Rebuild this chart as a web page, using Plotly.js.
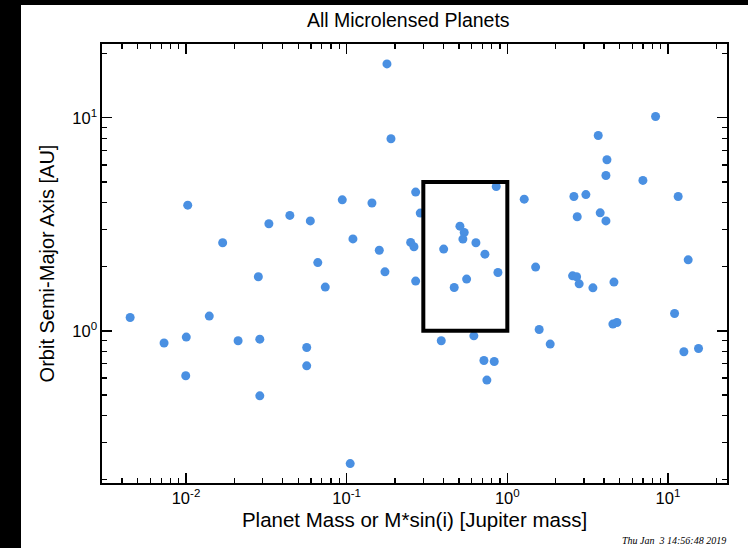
<!DOCTYPE html>
<html>
<head>
<meta charset="utf-8">
<script src="https://cdn.plot.ly/plotly-3.0.1.min.js"></script>
<style>
  html, body { margin: 0; padding: 0; background: #000; width: 748px; height: 548px; overflow: hidden; }
  #chart { position: absolute; left: 21px; top: 5px; width: 727px; height: 543px; background: #fff; }
</style>
</head>
<body>
<div id="chart"></div>
<script>
// Planet mass (Jupiter masses) and orbit semi-major axis (AU)
const planetMass = [
  0.00449, 0.0073, 0.01004, 0.00996, 0.01025, 0.01396, 0.01691, 0.0211, 0.0282, 0.0288,
  0.0288, 0.0328, 0.0443, 0.0564, 0.0564, 0.0594, 0.0661, 0.0736, 0.0939, 0.1052,
  0.1094, 0.1437, 0.1596, 0.1731, 0.1782, 0.1887, 0.2502, 0.2624, 0.2688, 0.287,
  0.2688, 0.388, 0.4016, 0.467, 0.507, 0.539, 0.529, 0.558, 0.619, 0.6376,
  0.7254, 0.715, 0.829, 0.746, 0.853, 0.874, 1.274, 1.50, 1.579, 1.849,
  2.597, 3.083, 2.723, 2.548, 2.699, 2.80, 3.41, 3.68, 4.17, 4.11,
  3.785, 4.11, 4.61, 4.54, 4.81, 6.98, 8.37, 10.99, 11.57, 13.36,
  12.56, 15.49
];
const semiMajorAxis = [
  1.155, 0.876, 0.934, 0.615, 3.89, 1.172, 2.59, 0.898, 1.793, 0.914,
  0.495, 3.18, 3.48, 0.835, 0.685, 3.28, 2.09, 1.604, 4.12, 0.238,
  2.70, 3.98, 2.39, 1.892, 17.9, 7.97, 2.60, 2.48, 4.48, 3.57,
  1.711, 0.898, 2.418, 1.597, 3.10, 2.894, 2.695, 1.749, 0.947, 2.59,
  2.29, 0.7255, 0.718, 0.587, 4.76, 1.878, 4.15, 1.991, 1.014, 0.866,
  4.27, 4.36, 3.43, 1.812, 1.793, 1.662, 1.591, 8.26, 6.35, 5.36,
  3.58, 3.28, 1.693, 1.075, 1.094, 5.08, 10.14, 1.206, 4.27, 2.154,
  0.797, 0.826
];

// Highlight box (mass range and semi-major-axis range)
const boxMass = [0.3, 1.0];
const boxAxis = [1.0, 5.0];

// Tick labels
const xTickVals = [0.01, 0.1, 1, 10];
const xTickText = ['10<sup>-2</sup>', '10<sup>-1</sup>', '10<sup>0</sup>', '10<sup>1</sup>'];
const yTickVals = [1, 10];
const yTickText = ['10<sup>0</sup>', '10<sup>1</sup>'];

// Axis ranges (data units)
const xRange = [0.003, 23.3];
const yRange = [0.193, 22.2];

function minorVals(lo, hi) {
  const out = [];
  for (let e = Math.floor(Math.log10(lo)); e <= Math.ceil(Math.log10(hi)); e++) {
    for (let m = 2; m <= 9; m++) {
      const v = m * Math.pow(10, e);
      if (v > lo && v < hi) out.push(v);
    }
  }
  return out;
}

const font = 'Liberation Sans, Arial, Helvetica, sans-serif';

const trace = {
  type: 'scatter',
  mode: 'markers',
  x: planetMass,
  y: semiMajorAxis,
  marker: { color: 'rgb(74,144,226)', size: 9, line: { width: 0 } },
  hoverinfo: 'x+y',
  showlegend: false
};

const axisCommon = {
  type: 'log',
  showgrid: false,
  zeroline: false,
  showline: true,
  linecolor: '#000',
  linewidth: 1.6,
  mirror: 'ticks',
  ticks: 'inside',
  ticklen: 10,
  tickwidth: 1.4,
  tickcolor: '#000',
  tickmode: 'array',
  tickfont: { family: font, size: 16.5, color: '#000' }
};

const layout = {
  width: 727,
  height: 543,
  margin: { l: 81, r: 21, t: 39, b: 65 },
  paper_bgcolor: '#fff',
  plot_bgcolor: '#fff',
  font: { family: font, color: '#000' },
  title: {
    text: 'All Microlensed Planets',
    font: { family: font, size: 19.5, color: '#000' },
    x: 0.49, xref: 'paper', xanchor: 'center',
    y: 0.972, yref: 'container', yanchor: 'middle'
  },
  xaxis: Object.assign({}, axisCommon, {
    range: [Math.log10(xRange[0]), Math.log10(xRange[1])],
    tickvals: xTickVals,
    ticktext: xTickText,
    minor: { tickmode: 'array', tickvals: minorVals(xRange[0], xRange[1]), ticks: 'inside', ticklen: 5, tickwidth: 1.2, tickcolor: '#000' },
    title: { text: 'Planet Mass or M*sin(i) [Jupiter mass]', font: { family: font, size: 20.5, color: '#000' }, standoff: 6 }
  }),
  yaxis: Object.assign({}, axisCommon, {
    range: [Math.log10(yRange[0]), Math.log10(yRange[1])],
    tickvals: yTickVals,
    ticktext: yTickText,
    minor: { tickmode: 'array', tickvals: minorVals(yRange[0], yRange[1]), ticks: 'inside', ticklen: 5, tickwidth: 1.2, tickcolor: '#000' },
    title: { text: 'Orbit Semi-Major Axis [AU]', font: { family: font, size: 20, color: '#000' }, standoff: 12 }
  }),
  shapes: [{
    type: 'rect', xref: 'x', yref: 'y',
    x0: boxMass[0], x1: boxMass[1], y0: boxAxis[0], y1: boxAxis[1],
    line: { color: '#000', width: 4 },
    fillcolor: 'rgba(0,0,0,0)'
  }],
  annotations: [{
    text: '<i>Thu Jan  3 14:56:48 2019</i>',
    xref: 'paper', yref: 'paper',
    x: 1.002, y: -0.13, xanchor: 'right', yanchor: 'middle',
    showarrow: false,
    font: { family: 'Liberation Serif, Times New Roman, serif', size: 10, color: '#000' }
  }]
};

Plotly.newPlot('chart', [trace], layout, { displayModeBar: false, staticPlot: true });
</script>
</body>
</html>
